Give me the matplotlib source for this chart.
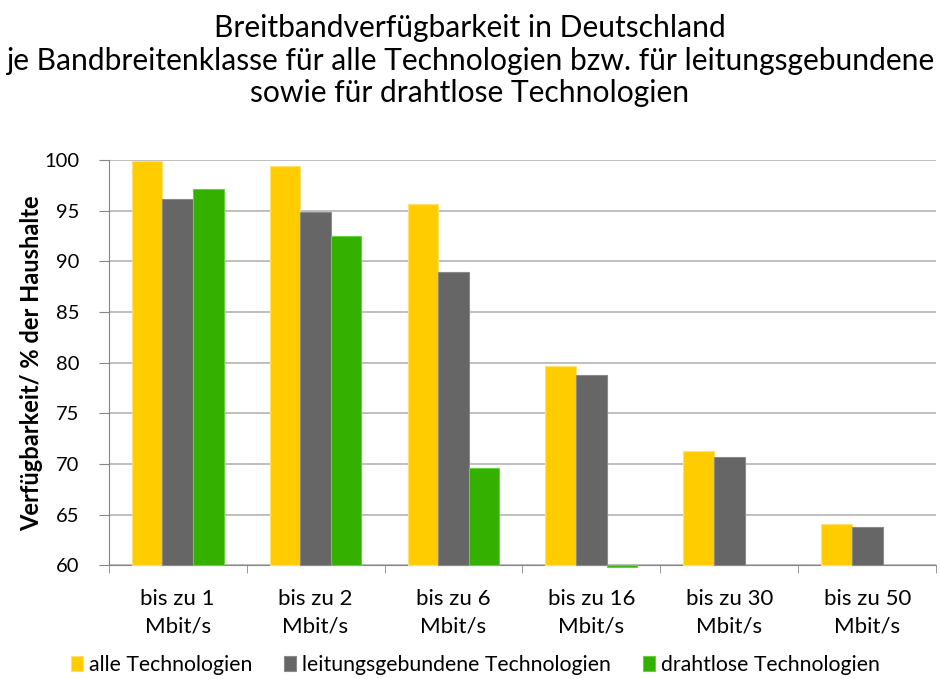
import numpy as np
import matplotlib
matplotlib.use("Agg")
import matplotlib.pyplot as plt

plt.rcParams['font.family'] = ['Lato', 'DejaVu Sans']

# data
categories = ["bis zu 1\nMbit/s", "bis zu 2\nMbit/s", "bis zu 6\nMbit/s",
              "bis zu 16\nMbit/s", "bis zu 30\nMbit/s", "bis zu 50\nMbit/s"]
alle = [99.9, 99.4, 95.7, 79.7, 71.3, 64.1]
leitung = [96.2, 94.9, 89.0, 78.8, 70.7, 63.8]
drahtlos = [97.2, 92.5, 69.6, 59.85, np.nan, np.nan]
series_names = ["alle Technologien", "leitungsgebundene Technologien",
                "drahtlose Technologien"]
colors = ["#FFCC00", "#666666", "#33B000"]
edges = ["#FFE070", "#8A8A8A", "#66D040"]

base = 60
fig = plt.figure(figsize=(9.4, 6.79), dpi=100)
ax = fig.add_axes([0.1156, 0.1675, 0.8804, 0.5965])

x = np.arange(len(categories))
w = 0.222
for i, (vals, name) in enumerate(zip([alle, leitung, drahtlos], series_names)):
    v = np.array(vals, dtype=float)
    ax.bar(x + (i - 1) * w, v - base, w, bottom=base, color=colors[i],
           edgecolor=edges[i], linewidth=0.8, label=name, zorder=3,
           clip_on=False)

ax.set_xlim(-0.5, len(categories) - 0.5)
ax.set_ylim(60, 100)
ax.set_yticks(range(60, 101, 5))
ax.yaxis.grid(True, color="#B4B4B4", linewidth=1.2, zorder=0)
ax.set_axisbelow(True)

ax.set_xticks(np.arange(len(categories) + 1) - 0.5, minor=True)
ax.set_xticks(x)
ax.set_xticklabels(categories, fontsize=16, linespacing=1.45)
ax.tick_params(axis="x", which="major", length=0, pad=17)
ax.tick_params(axis="x", which="minor", length=6, color="#868686")
ax.tick_params(axis="y", length=7, color="#868686", labelsize=14.5, pad=14)

for s in ["top", "right"]:
    ax.spines[s].set_visible(False)
for s in ["left", "bottom"]:
    ax.spines[s].set_color("#868686")

ax.set_ylabel("Verfügbarkeit/ % der Haushalte", fontsize=17,
              fontweight="bold")
ax.yaxis.set_label_coords(-0.079, 0.5)

fig.text(0.5, 0.979, "Breitbandverfügbarkeit in Deutschland\n"
         "je Bandbreitenklasse für alle Technologien bzw. für leitungsgebundene\n"
         "sowie für drahtlose Technologien",
         ha="center", va="top", fontsize=21.6, linespacing=1.2)

fig.legend(*ax.get_legend_handles_labels(), loc="center",
           bbox_to_anchor=(0.506, 1 - 665 / 679), ncol=3,
           frameon=False, fontsize=15.3, handlelength=0.55, handleheight=0.7,
           handletextpad=0.3, columnspacing=1.5, borderaxespad=0)

fig.savefig("out.png", dpi=100)
